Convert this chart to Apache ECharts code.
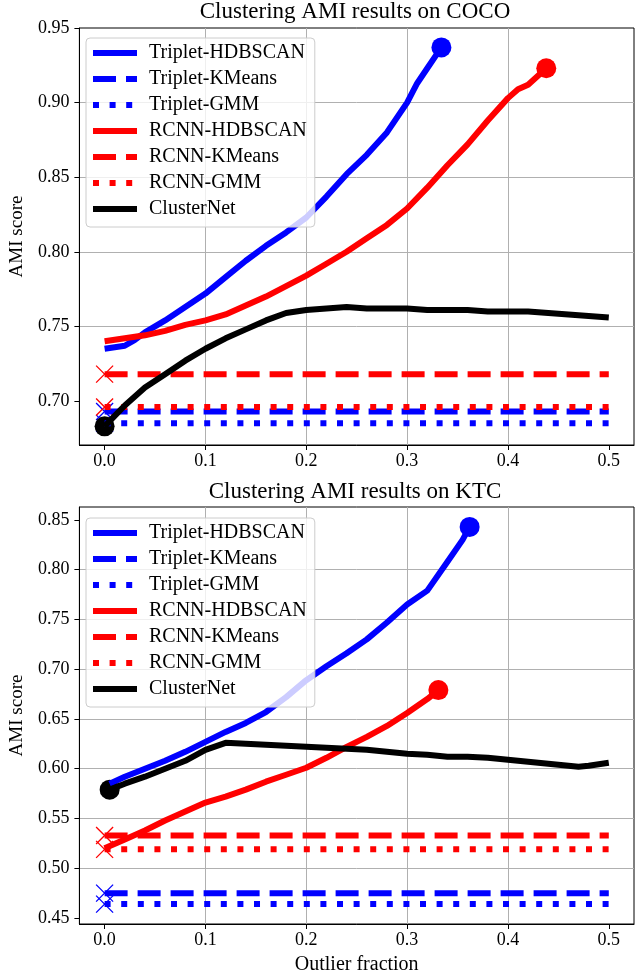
<!DOCTYPE html>
<html>
<head>
<meta charset="utf-8">
<title>Clustering AMI results</title>
<script src="https://cdn.jsdelivr.net/npm/echarts@6/dist/echarts.min.js"></script>
<style>
  html, body { margin: 0; padding: 0; background: #fff; }
  #chart { width: 637px; height: 976px; }
</style>
</head>
<body>
<div id="chart"></div>
<script>
// ---- data ----
const fractionRange = [0, 0.5]
const xTicks = [0, 0.1, 0.2, 0.3, 0.4, 0.5]
const yTicksCoco = [0.70, 0.75, 0.80, 0.85, 0.90, 0.95]
const yTicksKtc = [0.45, 0.50, 0.55, 0.60, 0.65, 0.70, 0.75, 0.80, 0.85]

// COCO
const cocoTripletHdbscanX = [0, 0.01, 0.02, 0.03, 0.04, 0.05, 0.06, 0.08, 0.10, 0.12, 0.14, 0.16, 0.18, 0.20, 0.22, 0.24, 0.26, 0.28, 0.30, 0.31, 0.32, 0.334]
const cocoTripletHdbscanY = [0.735, 0.736, 0.737, 0.741, 0.746, 0.750, 0.754, 0.763, 0.772, 0.783, 0.794, 0.804, 0.813, 0.823, 0.837, 0.852, 0.865, 0.880, 0.900, 0.913, 0.923, 0.937]
const cocoRcnnHdbscanX = [0, 0.02, 0.04, 0.06, 0.08, 0.10, 0.12, 0.14, 0.16, 0.18, 0.20, 0.22, 0.24, 0.26, 0.28, 0.30, 0.32, 0.34, 0.36, 0.38, 0.40, 0.41, 0.42, 0.438]
const cocoRcnnHdbscanY = [0.740, 0.742, 0.744, 0.747, 0.751, 0.754, 0.758, 0.764, 0.770, 0.777, 0.784, 0.792, 0.800, 0.809, 0.818, 0.829, 0.843, 0.858, 0.872, 0.888, 0.903, 0.909, 0.912, 0.923]
const cocoClusterNetX = [0, 0.01, 0.02, 0.03, 0.04, 0.06, 0.08, 0.10, 0.12, 0.14, 0.16, 0.18, 0.20, 0.22, 0.24, 0.26, 0.28, 0.30, 0.32, 0.34, 0.36, 0.38, 0.40, 0.42, 0.44, 0.46, 0.48, 0.50]
const cocoClusterNetY = [0.683, 0.690, 0.697, 0.703, 0.709, 0.718, 0.727, 0.735, 0.742, 0.748, 0.754, 0.759, 0.761, 0.762, 0.763, 0.762, 0.762, 0.762, 0.761, 0.761, 0.761, 0.760, 0.760, 0.760, 0.759, 0.758, 0.757, 0.756]
const cocoTripletKMeans = 0.693
const cocoTripletGMM = 0.685
const cocoRcnnKMeans = 0.718
const cocoRcnnGMM = 0.696

// KTC
const ktcTripletHdbscanX = [0.005, 0.02, 0.04, 0.06, 0.08, 0.10, 0.12, 0.14, 0.16, 0.18, 0.20, 0.22, 0.24, 0.26, 0.28, 0.30, 0.32, 0.34, 0.355, 0.362]
const ktcTripletHdbscanY = [0.585, 0.592, 0.600, 0.608, 0.617, 0.627, 0.637, 0.646, 0.657, 0.672, 0.689, 0.703, 0.716, 0.730, 0.747, 0.765, 0.779, 0.808, 0.830, 0.843]
const ktcRcnnHdbscanX = [0, 0.02, 0.04, 0.06, 0.08, 0.10, 0.12, 0.14, 0.16, 0.18, 0.20, 0.22, 0.24, 0.26, 0.28, 0.30, 0.32, 0.331]
const ktcRcnnHdbscanY = [0.520, 0.529, 0.538, 0.548, 0.557, 0.566, 0.572, 0.579, 0.587, 0.594, 0.601, 0.611, 0.622, 0.632, 0.643, 0.656, 0.670, 0.679]
const ktcClusterNetX = [0.005, 0.02, 0.04, 0.06, 0.08, 0.10, 0.12, 0.14, 0.16, 0.18, 0.20, 0.22, 0.24, 0.26, 0.28, 0.30, 0.32, 0.34, 0.36, 0.38, 0.40, 0.42, 0.44, 0.46, 0.47, 0.48, 0.50]
const ktcClusterNetY = [0.579, 0.585, 0.592, 0.600, 0.608, 0.619, 0.626, 0.625, 0.624, 0.623, 0.622, 0.621, 0.620, 0.619, 0.617, 0.615, 0.614, 0.612, 0.612, 0.611, 0.609, 0.607, 0.605, 0.603, 0.602, 0.603, 0.606]
const ktcTripletKMeans = 0.475
const ktcTripletGMM = 0.464
const ktcRcnnKMeans = 0.533
const ktcRcnnGMM = 0.519

const names = ['Triplet-HDBSCAN', 'Triplet-KMeans', 'Triplet-GMM', 'RCNN-HDBSCAN', 'RCNN-KMeans', 'RCNN-GMM', 'ClusterNet']

// ---- styling ----
const FONT = 'Liberation Serif'
const BLUE = '#0000ff'
const RED = '#ff0000'
const BLACK = '#000000'
const LW = 6
const DASHED = [23, 10]
const DOTTED = [6, 10.6]
const CROSS = 'path://M0,0L10,10M10,0L0,10'

function zip (xs, ys) {
  return xs.map((x, i) => [x, ys[i]])
}

function lineSeries (name, data, color, dash, gi) {
  return {
    name: name,
    type: 'line',
    xAxisIndex: gi,
    yAxisIndex: gi,
    data: data,
    symbol: 'none',
    showSymbol: false,
    silent: true,
    lineStyle: { color: color, width: LW, type: dash || 'solid', cap: 'butt', join: 'round' },
    itemStyle: { color: color }
  }
}

function markerSeries (point, color, kind, gi) {
  const cross = kind === 'cross'
  return {
    type: 'scatter',
    xAxisIndex: gi,
    yAxisIndex: gi,
    data: [point],
    silent: true,
    symbol: cross ? CROSS : 'circle',
    symbolSize: cross ? 17 : 20,
    itemStyle: cross
      ? { color: color, borderColor: color, borderWidth: 1.3, opacity: 1 }
      : { color: color, borderWidth: 0, opacity: 1 }
  }
}

function flat (value) {
  return fractionRange.map(x => [x, value])
}

function panelSeries (d, gi) {
  const th = zip(d.th[0], d.th[1])
  const rh = zip(d.rh[0], d.rh[1])
  const cn = zip(d.cn[0], d.cn[1])
  return [
    lineSeries(names[0], th, BLUE, null, gi),
    markerSeries(th[th.length - 1], BLUE, 'circle', gi),
    lineSeries(names[1], flat(d.tk), BLUE, DASHED, gi),
    markerSeries([fractionRange[0], d.tk], BLUE, 'cross', gi),
    lineSeries(names[2], flat(d.tg), BLUE, DOTTED, gi),
    markerSeries([fractionRange[0], d.tg], BLUE, 'cross', gi),
    lineSeries(names[3], rh, RED, null, gi),
    markerSeries(rh[rh.length - 1], RED, 'circle', gi),
    lineSeries(names[4], flat(d.rk), RED, DASHED, gi),
    markerSeries([fractionRange[0], d.rk], RED, 'cross', gi),
    lineSeries(names[5], flat(d.rg), RED, DOTTED, gi),
    markerSeries([fractionRange[0], d.rg], RED, 'cross', gi),
    lineSeries(names[6], cn, BLACK, null, gi),
    markerSeries(cn[0], BLACK, 'circle', gi)
  ]
}

function xAxisCfg (gi, withName) {
  return {
    gridIndex: gi,
    type: 'value',
    min: -0.025,
    max: 0.525,
    minInterval: 0.1,
    maxInterval: 0.1,
    name: withName ? 'Outlier fraction' : '',
    nameLocation: 'middle',
    nameGap: 31,
    nameTextStyle: { fontFamily: FONT, fontSize: 20, color: '#000' },
    axisLine: { onZero: false, lineStyle: { color: '#000', width: 1 } },
    axisTick: { length: 5, customValues: xTicks, lineStyle: { color: '#000', width: 1 } },
    axisLabel: { customValues: xTicks, formatter: v => v.toFixed(1), fontFamily: FONT, fontSize: 18, color: '#000', margin: 7 },
    splitLine: { show: true, showMinLine: false, showMaxLine: false, lineStyle: { color: '#b0b0b0', width: 1 } }
  }
}

function yAxisCfg (gi, min, max, ticks) {
  return {
    gridIndex: gi,
    type: 'value',
    min: min,
    max: max,
    minInterval: 0.05,
    maxInterval: 0.05,
    name: 'AMI score',
    nameLocation: 'middle',
    nameGap: 52,
    nameTextStyle: { fontFamily: FONT, fontSize: 19, color: '#000' },
    axisLine: { onZero: false, lineStyle: { color: '#000', width: 1 } },
    axisTick: { length: 5, customValues: ticks, lineStyle: { color: '#000', width: 1 } },
    axisLabel: { customValues: ticks, formatter: v => v.toFixed(2), fontFamily: FONT, fontSize: 18, color: '#000', margin: 10 },
    splitLine: { show: true, showMinLine: false, showMaxLine: false, lineStyle: { color: '#b0b0b0', width: 1 } }
  }
}

function legendCfg (top) {
  return {
    data: names,
    orient: 'vertical',
    left: 86,
    top: top,
    itemWidth: 44,
    itemHeight: 14,
    itemGap: 6,
    padding: [5, 8, 8, 4],
    backgroundColor: 'rgba(255,255,255,0.8)',
    borderColor: '#cccccc',
    borderWidth: 1,
    borderRadius: 4,
    selectedMode: false,
    itemStyle: { opacity: 0 },
    lineStyle: { width: LW },
    textStyle: { fontFamily: FONT, fontSize: 20, color: '#000', lineHeight: 20, padding: [0, 0, 0, 7] }
  }
}

const coco = {
  th: [cocoTripletHdbscanX, cocoTripletHdbscanY],
  rh: [cocoRcnnHdbscanX, cocoRcnnHdbscanY],
  cn: [cocoClusterNetX, cocoClusterNetY],
  tk: cocoTripletKMeans, tg: cocoTripletGMM, rk: cocoRcnnKMeans, rg: cocoRcnnGMM
}
const ktc = {
  th: [ktcTripletHdbscanX, ktcTripletHdbscanY],
  rh: [ktcRcnnHdbscanX, ktcRcnnHdbscanY],
  cn: [ktcClusterNetX, ktcClusterNetY],
  tk: ktcTripletKMeans, tg: ktcTripletGMM, rk: ktcRcnnKMeans, rg: ktcRcnnGMM
}

const chart = echarts.init(document.getElementById('chart'), null, { renderer: 'canvas' })
chart.setOption({
  animation: false,
  backgroundColor: '#fff',
  title: [
    { text: 'Clustering AMI results on COCO', left: 355, top: 0, textAlign: 'center', padding: 0,
      textStyle: { fontFamily: FONT, fontSize: 23, fontWeight: 'normal', color: '#000' } },
    { text: 'Clustering AMI results on KTC', left: 355, top: 480, textAlign: 'center', padding: 0,
      textStyle: { fontFamily: FONT, fontSize: 23, fontWeight: 'normal', color: '#000' } }
  ],
  legend: [legendCfg(38), legendCfg(518)],
  grid: [
    { left: 76, top: 28, right: 3, height: 417, show: true, borderColor: '#000', borderWidth: 1, backgroundColor: 'transparent' },
    { left: 76, top: 507, right: 3, height: 417, show: true, borderColor: '#000', borderWidth: 1, backgroundColor: 'transparent' }
  ],
  xAxis: [xAxisCfg(0, false), xAxisCfg(1, true)],
  yAxis: [yAxisCfg(0, 0.6705, 0.95, yTicksCoco), yAxisCfg(1, 0.444, 0.863, yTicksKtc)],
  series: panelSeries(coco, 0).concat(panelSeries(ktc, 1))
})
</script>
</body>
</html>
